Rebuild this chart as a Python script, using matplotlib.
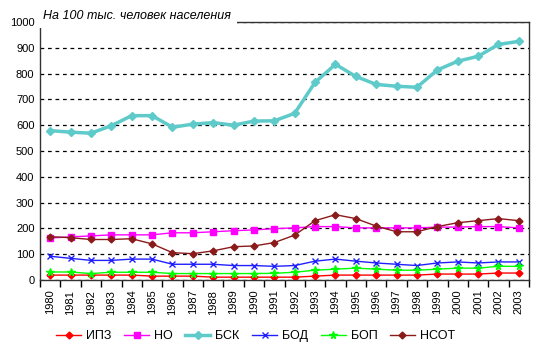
import matplotlib
matplotlib.use("Agg")
import matplotlib.pyplot as plt

plt.rcParams['font.family'] = ['Liberation Sans', 'DejaVu Sans']

years = [str(y) for y in range(1980, 2004)]

ipz = [19, 19, 19, 19, 19, 15, 15, 15, 11, 11, 11, 11,
       11, 15, 19, 19, 19, 19, 19, 23, 23, 23, 27, 27]
no = [163, 167, 171, 175, 175, 175, 183, 183, 187, 191, 194, 199,
      202, 207, 207, 202, 202, 202, 202, 205, 205, 207, 207, 202]
bsk = [579, 573, 569, 598, 637, 637, 592, 604, 610, 600, 616, 617,
       646, 766, 836, 789, 758, 751, 747, 814, 848, 867, 913, 925]
bod = [92, 84, 76, 76, 81, 81, 61, 61, 61, 56, 56, 53,
       56, 73, 81, 73, 66, 61, 56, 66, 70, 66, 70, 70]
bop = [31, 31, 25, 30, 30, 30, 25, 25, 25, 25, 25, 26,
       30, 38, 42, 46, 42, 38, 38, 42, 46, 46, 53, 53]
nsot = [168, 164, 157, 157, 160, 140, 106, 102, 113, 129, 132, 145,
        174, 230, 253, 238, 209, 187, 187, 207, 222, 230, 238, 230]

fig = plt.figure(figsize=(5.44, 3.56), dpi=100)
ax = fig.add_axes([40 / 544, 1 - 280 / 356, 489 / 544, 258 / 356])

x = list(range(len(years)))
ax.plot(x, ipz, color='#FF0000', lw=1, marker='D', ms=3.5, label='ИПЗ')
ax.plot(x, no, color='#FF00FF', lw=1, marker='s', ms=5, label='НО')
ax.plot(x, bsk, color='#5FCACA', lw=2.5, marker='D', ms=4.5, label='БСК')
ax.plot(x, bod, color='#2020FF', lw=1, marker='x', ms=4, label='БОД')
ax.plot(x, bop, color='#00FF00', lw=1, marker='*', ms=5.5, label='БОП')
ax.plot(x, nsot, color='#8B1A1A', lw=1, marker='D', ms=3.5, label='НСОТ')

ax.set_xlim(-0.5, len(years) - 0.5)
ax.set_ylim(0, 1000)
ax.set_yticks(range(0, 1001, 100))
ax.tick_params(axis='y', length=0, labelsize=8, pad=4)

# категории подписаны по центру, засечки между ними
ax.set_xticks(x)
ax.set_xticklabels(years, rotation=90, fontsize=8)
ax.tick_params(axis='x', which='major', length=0, pad=7)
ax.set_xticks([i - 0.5 for i in range(len(years) + 1)], minor=True)
ax.tick_params(axis='x', which='minor', length=5, width=1, direction='out')

ax.yaxis.grid(True, color='black', linestyle=(0, (3, 3)), lw=0.9)
for s in ax.spines.values():
    s.set_color('#333333')
    s.set_linewidth(1)

ax.text(0.007, 1.022, 'На 100 тыс. человек населения', transform=ax.transAxes,
        fontsize=9, style='italic', va='center', ha='left',
        bbox=dict(facecolor='white', edgecolor='none', pad=4))

fig.legend(loc='center', bbox_to_anchor=(0.47, 1 - 336 / 356), ncol=6,
           frameon=False, fontsize=9, handlelength=2.0, columnspacing=1.0,
           handletextpad=0.4)

fig.savefig('out.png', dpi=100)
